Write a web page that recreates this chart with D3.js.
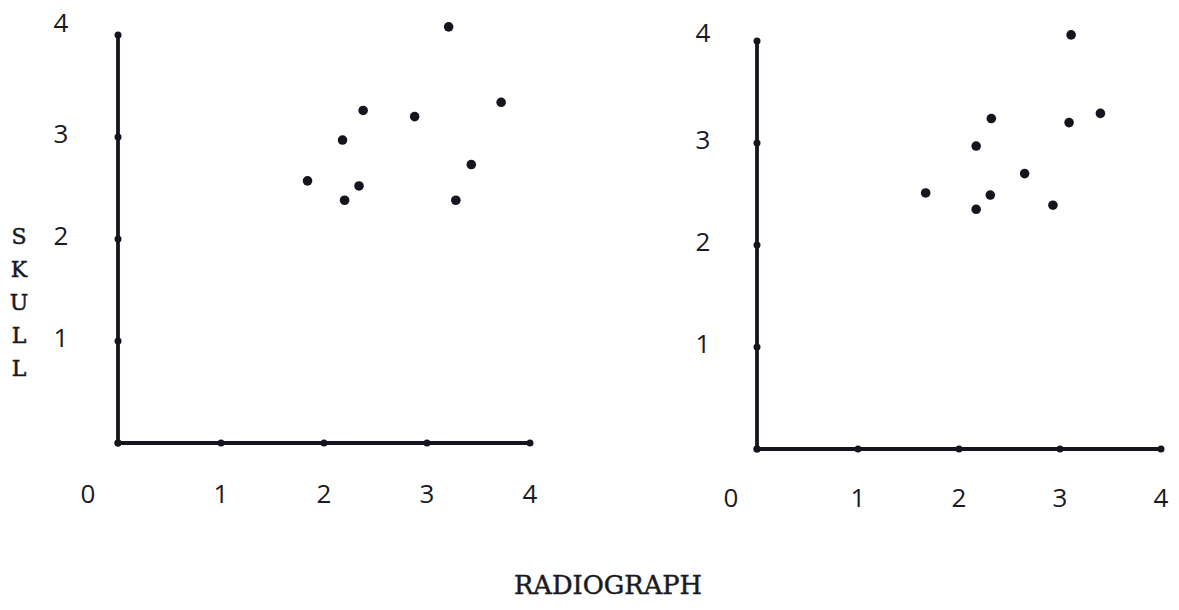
<!DOCTYPE html>
<html>
<head>
<meta charset="utf-8">
<script src="https://cdn.jsdelivr.net/npm/d3@7"></script>
<style>
  html, body { margin: 0; padding: 0; background: #fff; }
  svg { display: block; }
  .tick-label { font-family: "Open Sans", sans-serif; font-weight: 400; font-size: 26px; fill: #1a1a22; }
  .type { font-family: "DejaVu Serif", "Liberation Serif", serif; fill: #1a1a22; stroke: #1a1a22; stroke-width: 0.5; }
</style>
</head>
<body>
<script>
// values
const ticks = [0, 1, 2, 3, 4];

const leftX  = [3.21, 2.38, 2.88, 3.72, 2.18, 1.84, 2.34, 2.20, 3.43, 3.28];
const leftY  = [4.08, 3.26, 3.20, 3.34, 2.97, 2.57, 2.52, 2.38, 2.73, 2.38];

const rightX = [3.11, 3.40, 3.09, 2.32, 2.17, 2.65, 1.67, 2.31, 2.17, 2.93];
const rightY = [4.06, 3.29, 3.20, 3.24, 2.97, 2.70, 2.51, 2.49, 2.35, 2.39];

const yTitle = ['S', 'K', 'U', 'L', 'L'];
const xTitle = 'RADIOGRAPH';

const width = 1179, height = 610;
const ink = '#15151f';

const svg = d3.select('body').append('svg')
  .attr('width', width)
  .attr('height', height);

const panels = [
  { xs: leftX, ys: leftY, x0: 118, x1: 530, y0: 443, y1: 35, ylab: 61, zeroDx: -30, xlabDy: 50, topDy: -13 },
  { xs: rightX, ys: rightY, x0: 757, x1: 1161, y0: 449, y1: 41, ylab: 703, zeroDx: -26, xlabDy: 48, topDy: -9 }
];

panels.forEach(p => {
  const x = d3.scaleLinear().domain([0, 4]).range([p.x0, p.x1]);
  const y = d3.scaleLinear().domain([0, 4]).range([p.y0, p.y1]);
  const g = svg.append('g');

  // axes drawn as heavy hand-ruled lines
  g.append('line')
    .attr('x1', x(0)).attr('y1', y(0))
    .attr('x2', x(0)).attr('y2', y(4))
    .attr('stroke', ink).attr('stroke-width', 3.8).attr('stroke-linecap', 'round');
  g.append('line')
    .attr('x1', x(0)).attr('y1', y(0))
    .attr('x2', x(4)).attr('y2', y(0))
    .attr('stroke', ink).attr('stroke-width', 3.8).attr('stroke-linecap', 'round');

  // tick dots
  g.selectAll('.xt').data(ticks).enter().append('circle')
    .attr('cx', d => x(d)).attr('cy', y(0)).attr('r', 3.5).attr('fill', ink);
  g.selectAll('.yt').data(ticks).enter().append('circle')
    .attr('cx', x(0)).attr('cy', d => y(d)).attr('r', 3.5).attr('fill', ink);

  // tick labels
  g.selectAll('.xl').data(ticks).enter().append('text')
    .attr('class', 'tick-label')
    .attr('x', d => d === 0 ? x(0) + p.zeroDx : x(d))
    .attr('y', y(0) + p.xlabDy)
    .attr('text-anchor', 'middle')
    .attr('dominant-baseline', 'central')
    .text(d => d);
  g.selectAll('.yl').data(ticks.slice(1)).enter().append('text')
    .attr('class', 'tick-label')
    .attr('x', p.ylab)
    .attr('y', d => y(d) + (d === 4 ? p.topDy : -4))
    .attr('text-anchor', 'middle')
    .attr('dominant-baseline', 'central')
    .text(d => d);

  // data points
  g.selectAll('.pt').data(p.xs).enter().append('circle')
    .attr('cx', d => x(d))
    .attr('cy', (d, i) => y(p.ys[i]))
    .attr('r', 4.8)
    .attr('fill', ink);
});

// vertical typed title
svg.append('g').selectAll('text').data(yTitle).enter().append('text')
  .attr('class', 'type')
  .attr('x', 19)
  .attr('y', (d, i) => 236 + i * 33)
  .attr('text-anchor', 'middle')
  .attr('dominant-baseline', 'central')
  .attr('font-size', 22)
  .text(d => d);

svg.append('text')
  .attr('class', 'type')
  .attr('x', 514)
  .attr('y', 594)
  .attr('font-size', 26)
  .attr('textLength', 188)
  .attr('lengthAdjust', 'spacingAndGlyphs')
  .text(xTitle);
</script>
</body>
</html>
